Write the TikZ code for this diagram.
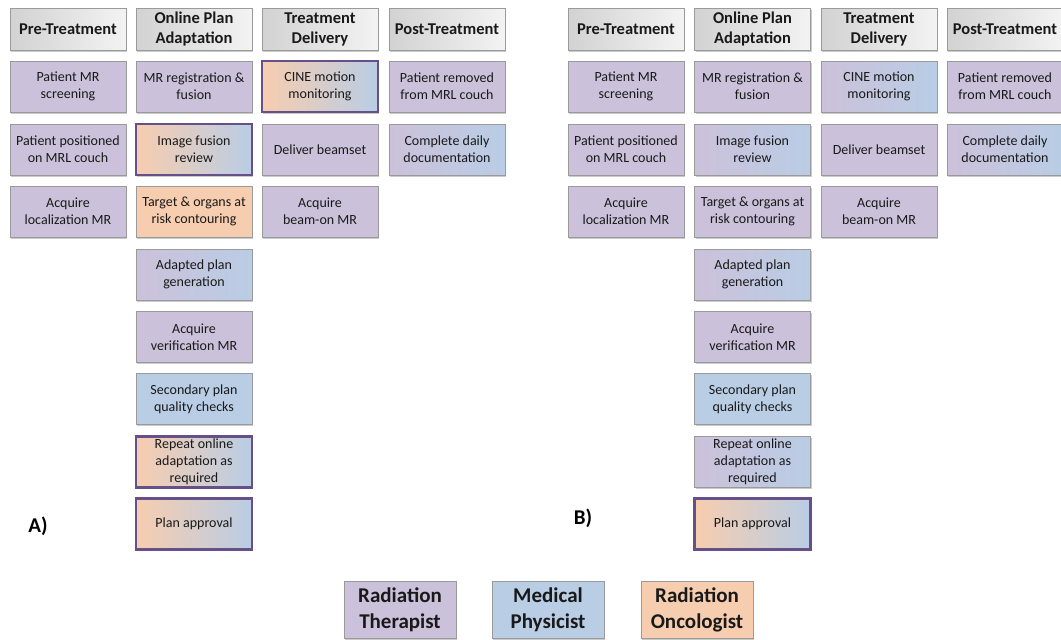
\documentclass[tikz,border=0pt]{standalone}
\usepackage{fontspec}
\setmainfont{Carlito}
\usetikzlibrary{shadows}
\definecolor{rtc}{HTML}{CCC1DA}
\definecolor{mpc}{HTML}{B9CDE5}
\definecolor{roc}{HTML}{F7CDAF}
\definecolor{edgec}{HTML}{9A9A9A}
\definecolor{keyc}{HTML}{65508A}
\definecolor{hdl}{HTML}{D2D2D2}
\definecolor{hdr}{HTML}{F3F3F3}
\tikzset{
  box/.style={rectangle, draw=edgec, line width=0.8pt, minimum width=116pt, minimum height=51pt,
    align=center, inner sep=1pt, font=\fontsize{14}{17}\selectfont, text=black!90,
    drop shadow={shadow xshift=1.2pt, shadow yshift=-1.5pt, opacity=0.35, fill=black!60}},
  hdrbox/.style={box, minimum height=42pt, font=\fontsize{16.5}{20}\selectfont\bfseries,
    left color=hdl, right color=hdr},
  rt/.style={box, fill=rtc},
  mp/.style={box, fill=mpc},
  ro/.style={box, fill=roc},
  rtmp/.style={box, left color=rtc, right color=mpc},
  romp/.style={box, left color=roc, right color=mpc},
  keyb/.style={draw=keyc, line width=2.2pt},
  legend/.style={rectangle, draw=edgec, line width=0.8pt, minimum width=112pt, minimum height=57pt,
    align=center, font=\fontsize{21}{26}\selectfont\bfseries, text=black!90,
    drop shadow={shadow xshift=1.2pt, shadow yshift=-1.5pt, opacity=0.35, fill=black!60}},
  panel/.style={font=\fontsize{21}{25}\selectfont\bfseries}
}
\begin{document}
\begin{tikzpicture}[x=1pt,y=-1pt]
\useasboundingbox (0,0) rectangle (1061,640);
% ---------- Panel A ----------
\node[hdrbox] (ah1) at (68,29) {Pre-Treatment};
\node[hdrbox] (ah2) at (194,29) {Online Plan\\Adaptation};
\node[hdrbox] (ah3) at (320,29) {Treatment\\Delivery};
\node[hdrbox] (ah4) at (447,29) {Post-Treatment};
\node[rt] (a11) at (68,86.5) {Patient MR\\screening};
\node[rt] (a12) at (68,149.5) {Patient positioned\\on MRL couch};
\node[rt] (a13) at (68,211.5) {Acquire\\localization MR};
\node[rt] (a21) at (194,86.5) {MR registration \&\\fusion};
\node[romp,keyb] (a22) at (194,149.5) {Image fusion\\review};
\node[ro] (a23) at (194,211.5) {Target \& organs at\\risk contouring};
\node[rtmp] (a24) at (194,274.5) {Adapted plan\\generation};
\node[rt] (a25) at (194,337) {Acquire\\verification MR};
\node[mp] (a26) at (194,399) {Secondary plan\\quality checks};
\node[romp,keyb] (a27) at (194,462) {Repeat online\\adaptation as\\required};
\node[romp,keyb] (a28) at (194,524) {Plan approval};
\node[romp,keyb] (a31) at (320,86.5) {CINE motion\\monitoring};
\node[rt] (a32) at (320,149.5) {Deliver beamset};
\node[rt] (a33) at (320,211.5) {Acquire\\beam-on MR};
\node[rt] (a41) at (447,86.5) {Patient removed\\from MRL couch};
\node[rtmp] (a42) at (447,149.5) {Complete daily\\documentation};
\node[panel] (la) at (38,526) {A)};
% ---------- Panel B ----------
\node[hdrbox] (bh1) at (626,29) {Pre-Treatment};
\node[hdrbox] (bh2) at (752.5,29) {Online Plan\\Adaptation};
\node[hdrbox] (bh3) at (879,29) {Treatment\\Delivery};
\node[hdrbox] (bh4) at (1005,29) {Post-Treatment};
\node[rt] (b11) at (626,86.5) {Patient MR\\screening};
\node[rt] (b12) at (626,149.5) {Patient positioned\\on MRL couch};
\node[rt] (b13) at (626,211.5) {Acquire\\localization MR};
\node[rt] (b21) at (752.5,86.5) {MR registration \&\\fusion};
\node[rtmp] (b22) at (752.5,149.5) {Image fusion\\review};
\node[rt] (b23) at (752.5,211.5) {Target \& organs at\\risk contouring};
\node[rtmp] (b24) at (752.5,274.5) {Adapted plan\\generation};
\node[rt] (b25) at (752.5,337) {Acquire\\verification MR};
\node[mp] (b26) at (752.5,399) {Secondary plan\\quality checks};
\node[rtmp] (b27) at (752.5,462) {Repeat online\\adaptation as\\required};
\node[romp,keyb] (b28) at (752.5,524) {Plan approval};
\node[rtmp] (b31) at (879,86.5) {CINE motion\\monitoring};
\node[rt] (b32) at (879,149.5) {Deliver beamset};
\node[rt] (b33) at (879,211.5) {Acquire\\beam-on MR};
\node[rt] (b41) at (1005,86.5) {Patient removed\\from MRL couch};
\node[rtmp] (b42) at (1005,149.5) {Complete daily\\documentation};
\node[panel] (lb) at (583,518) {B)};
% ---------- Legend ----------
\node[legend, fill=rtc] (k1) at (400,609.5) {Radiation\\Therapist};
\node[legend, fill=mpc] (k2) at (548,609.5) {Medical\\Physicist};
\node[legend, fill=roc] (k3) at (697,609.5) {Radiation\\Oncologist};
\end{tikzpicture}
\end{document}
